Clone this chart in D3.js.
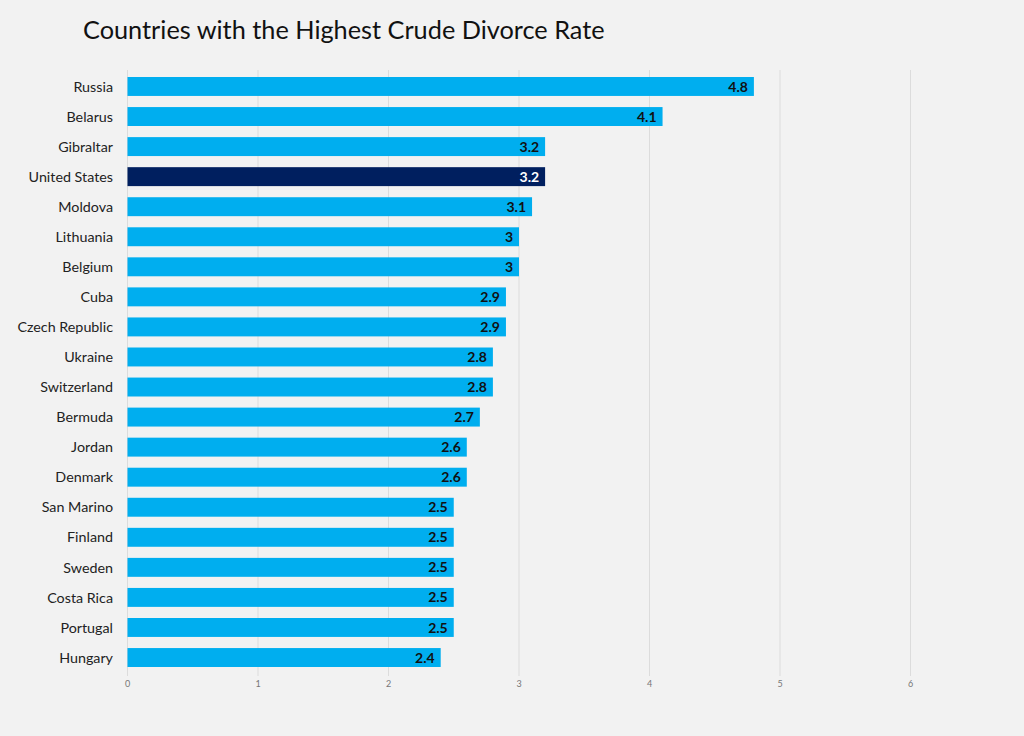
<!DOCTYPE html>
<html>
<head>
<meta charset="utf-8">
<script src="https://cdn.jsdelivr.net/npm/d3@7"></script>
<style>
  body { margin: 0; background: #f2f2f2; }
  svg { display: block; font-family: Lato, "Open Sans", sans-serif; }
</style>
</head>
<body>
<div id="chart"></div>
<script>
const countries = ["Russia", "Belarus", "Gibraltar", "United States", "Moldova", "Lithuania", "Belgium",
    "Cuba", "Czech Republic", "Ukraine", "Switzerland", "Bermuda", "Jordan", "Denmark",
    "San Marino", "Finland", "Sweden", "Costa Rica", "Portugal", "Hungary"];
const rates = [4.8, 4.1, 3.2, 3.2, 3.1, 3, 3, 2.9, 2.9, 2.8, 2.8, 2.7, 2.6, 2.6, 2.5, 2.5, 2.5, 2.5, 2.5, 2.4];
const highlight = ["United States"];
const xTicks = [0, 1, 2, 3, 4, 5, 6];

const width = 1024, height = 736;

const svg = d3.select("#chart")
    .append("svg")
    .attr("width", width)
    .attr("height", height);

svg.append("rect")
    .attr("width", width)
    .attr("height", height)
    .attr("fill", "#f2f2f2");

svg.append("text")
    .attr("x", 83)
    .attr("y", 39)
    .text("Countries with the Highest Crude Divorce Rate")
    .style("font-size", "25.3px")
    .style("fill", "#111");

const x = d3.scaleLinear().domain([0, 6]).range([127.5, 910.5]);
const y = d3.scaleBand().domain(countries).range([71, 673]).paddingInner(0.37).paddingOuter(0.2);

// gridlines
svg.selectAll("line.grid")
    .data(xTicks)
    .enter().append("line")
    .attr("class", "grid")
    .attr("x1", d => x(d))
    .attr("x2", d => x(d))
    .attr("y1", 70)
    .attr("y2", 676)
    .style("stroke", "#dcdcdc")
    .style("stroke-width", 1);

svg.selectAll("text.tick")
    .data(xTicks)
    .enter().append("text")
    .attr("class", "tick")
    .attr("x", d => x(d))
    .attr("y", 687)
    .attr("text-anchor", "middle")
    .text(d => d)
    .style("font-size", "9px")
    .style("fill", "#777");

const data = countries.map((c, i) => ({ country: c, rate: rates[i] }));

svg.selectAll("rect.bar")
    .data(data)
    .enter().append("rect")
    .attr("class", "bar")
    .attr("x", x(0))
    .attr("y", d => y(d.country))
    .attr("width", d => x(d.rate) - x(0))
    .attr("height", y.bandwidth())
    .style("fill", d => highlight.includes(d.country) ? "#001f5f" : "#00aeef");

svg.selectAll("text.value")
    .data(data)
    .enter().append("text")
    .attr("class", "value")
    .attr("x", d => x(d.rate) - 6)
    .attr("y", d => y(d.country) + y.bandwidth() / 2)
    .attr("dy", "0.36em")
    .attr("text-anchor", "end")
    .text(d => d.rate)
    .style("font-size", "14px")
    .style("font-weight", "bold")
    .style("fill", d => highlight.includes(d.country) ? "#fff" : "#111");

svg.selectAll("text.label")
    .data(data)
    .enter().append("text")
    .attr("class", "label")
    .attr("x", 113)
    .attr("y", d => y(d.country) + y.bandwidth() / 2)
    .attr("dy", "0.36em")
    .attr("text-anchor", "end")
    .text(d => d.country)
    .style("font-size", "14.3px")
    .style("fill", "#222");
</script>
</body>
</html>
